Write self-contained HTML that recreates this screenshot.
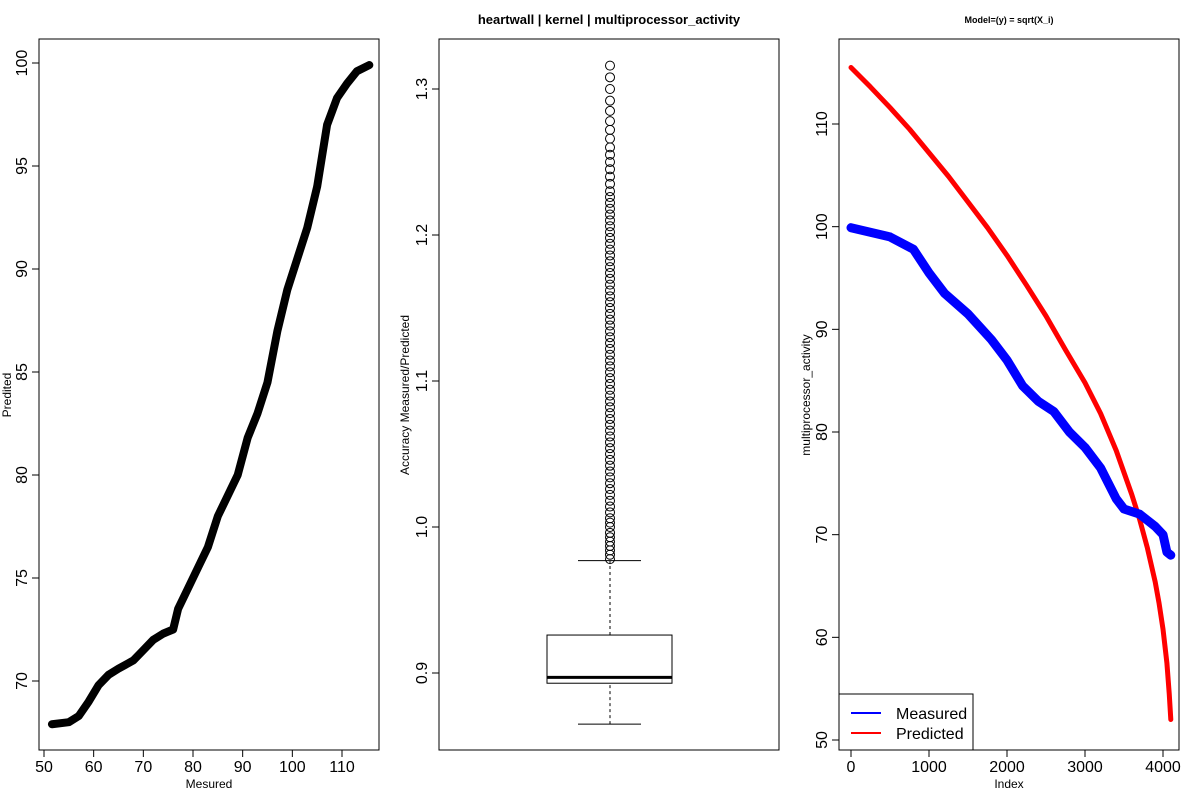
<!DOCTYPE html>
<html><head><meta charset="utf-8"><style>
body{margin:0;background:#fff;}
svg text{font-family:"Liberation Sans",sans-serif;}
</style></head><body>
<svg id="chart" width="1200" height="800" xmlns="http://www.w3.org/2000/svg">
<rect width="1200" height="800" fill="#fff"/>
<g id="p1"></g>
<g id="p2"></g>
<g id="p3"></g>
</svg>
<script>
// Panel 1 data
const measX = [51.6,55,57,59,61,63,65,68,70,72,74,76,77,79,81,83,85,87,89,91,93,95,97,99,101,103,105,107,109,111,113,115.5];
const predY = [67.9,68.0,68.3,69.0,69.8,70.3,70.6,71.0,71.5,72.0,72.3,72.5,73.5,74.5,75.5,76.5,78.0,79.0,80.0,81.8,83.0,84.5,87.0,89.0,90.5,92.0,94.0,97.0,98.3,99.0,99.6,99.9];
const p1XTicks = [50,60,70,80,90,100,110];
const p1YTicks = [70,75,80,85,90,95,100];
// Panel 2 data
const boxStats = [0.865,0.893,0.897,0.926,0.977]; // low whisker, q1, median, q3, high whisker
const outliers = [0.978,0.981,0.984,0.987,0.99,0.993,0.996,1.0,1.003,1.006,1.01,1.014,1.018,1.022,1.026,1.03,1.034,1.038,1.042,1.046,1.05,1.054,1.058,1.062,1.066,1.07,1.074,1.078,1.082,1.086,1.09,1.094,1.098,1.102,1.106,1.11,1.114,1.118,1.122,1.126,1.13,1.134,1.138,1.142,1.146,1.15,1.154,1.158,1.162,1.166,1.17,1.174,1.178,1.182,1.186,1.19,1.194,1.198,1.202,1.206,1.21,1.214,1.218,1.222,1.226,1.23,1.235,1.24,1.245,1.25,1.255,1.26,1.266,1.272,1.278,1.285,1.292,1.3,1.308,1.316];
const p2YTicks = [0.9,1.0,1.1,1.2,1.3];
const p2YLabels = ["0.9","1.0","1.1","1.2","1.3"];
// Panel 3 data
const idxM = [0,500,800,1000,1200,1500,1800,2000,2200,2400,2600,2800,3000,3200,3400,3500,3700,3900,4000,4050,4100];
const valM = [99.9,99.0,97.8,95.5,93.5,91.5,89,87,84.5,83,82,80,78.5,76.5,73.5,72.5,72,70.8,70,68.3,68];
const idxP = [0,250,500,750,1000,1250,1500,1750,2000,2250,2500,2750,3000,3200,3400,3600,3700,3800,3900,3950,4000,4050,4080,4100];
const valP = [115.5,113.6,111.6,109.5,107.2,104.9,102.4,99.9,97.2,94.3,91.3,88.0,84.8,81.8,78.2,73.9,71.5,68.7,65.4,63.3,60.8,57.5,54.5,52];
const p3XTicks = [0,1000,2000,3000,4000];
const p3YTicks = [50,60,70,80,90,100,110];

const NS="http://www.w3.org/2000/svg";
function mk(parent,tag,attrs,txt){const e=document.createElementNS(NS,tag);for(const k in attrs)e.setAttribute(k,attrs[k]);if(txt!==undefined)e.textContent=txt;parent.appendChild(e);return e;}
function lin(d0,d1,r0,r1){return v=>r0+(v-d0)*(r1-r0)/(d1-d0);}

// Panel 1
const g1=document.getElementById('p1');
const x1=lin(50,110,44,342), y1=lin(70,100,681,63);
let b=mk(g1,'rect',{x:39,y:39,width:340,height:711,fill:'none',stroke:'#000'});


let pts=measX.map((v,i)=>x1(v)+','+y1(predY[i])).join(' ');
let l=mk(g1,'polyline',{points:pts,fill:'none',stroke:'#000','stroke-width':8,'stroke-linejoin':'round','stroke-linecap':'round'});


mk(g1,'line',{x1:x1(50),x2:x1(110),y1:750,y2:750,stroke:'#000'});
p1XTicks.forEach(t=>{mk(g1,'line',{x1:x1(t),x2:x1(t),y1:750,y2:757,stroke:'#000'});
 const e=mk(g1,'text',{x:x1(t),y:772,'font-size':16,'text-anchor':'middle'},String(t));
 
 });
mk(g1,'line',{x1:39,x2:39,y1:y1(70),y2:y1(100),stroke:'#000'});
p1YTicks.forEach(t=>{mk(g1,'line',{x1:32,x2:39,y1:y1(t),y2:y1(t),stroke:'#000'});
 const e=mk(g1,'text',{x:27,y:y1(t),'font-size':16,'text-anchor':'middle',transform:`rotate(-90 27 ${y1(t)})`},String(t));
 
 });
let t1=mk(g1,'text',{x:209,y:788,'font-size':12,'text-anchor':'middle'},'Mesured');


t1=mk(g1,'text',{x:11,y:395,'font-size':12,'text-anchor':'middle',transform:'rotate(-90 11 395)'},'Predited');



// Panel 2
const g2=document.getElementById('p2');
const y2=lin(0.9,1.3,673,89); const cx=610;
b=mk(g2,'rect',{x:439,y:39,width:340,height:711,fill:'none',stroke:'#000'});


mk(g2,'line',{x1:cx,x2:cx,y1:y2(boxStats[0]),y2:y2(boxStats[1]),stroke:'#000','stroke-dasharray':'3,3'});
mk(g2,'line',{x1:cx,x2:cx,y1:y2(boxStats[3]),y2:y2(boxStats[4]),stroke:'#000','stroke-dasharray':'3,3'});
mk(g2,'line',{x1:578,x2:641,y1:y2(boxStats[0]),y2:y2(boxStats[0]),stroke:'#000'});
mk(g2,'line',{x1:578,x2:641,y1:y2(boxStats[4]),y2:y2(boxStats[4]),stroke:'#000'});
b=mk(g2,'rect',{x:547,y:y2(boxStats[3]),width:125,height:y2(boxStats[1])-y2(boxStats[3]),fill:'none',stroke:'#000'});


b=mk(g2,'line',{x1:547,x2:672,y1:y2(boxStats[2]),y2:y2(boxStats[2]),stroke:'#000','stroke-width':3});


outliers.forEach(v=>{const c=mk(g2,'circle',{cx:cx,cy:y2(v),r:4.5,fill:'none',stroke:'#000'});
 
 });
mk(g2,'line',{x1:439,x2:439,y1:y2(0.9),y2:y2(1.3),stroke:'#000'});
p2YTicks.forEach((t,i)=>{mk(g2,'line',{x1:432,x2:439,y1:y2(t),y2:y2(t),stroke:'#000'});
 const e=mk(g2,'text',{x:427,y:y2(t),'font-size':16,'text-anchor':'middle',transform:`rotate(-90 427 ${y2(t)})`},p2YLabels[i]);
 
 });
t1=mk(g2,'text',{x:609,y:24,'font-size':13,'font-weight':'bold','text-anchor':'middle'},'heartwall | kernel | multiprocessor_activity');


t1=mk(g2,'text',{x:409,y:395,'font-size':12,'text-anchor':'middle',transform:'rotate(-90 409 395)'},'Accuracy  Measured/Predicted');



// Panel 3
const g3=document.getElementById('p3');
const x3=lin(0,4000,851,1163), y3=lin(50,110,740,124);
b=mk(g3,'rect',{x:839,y:39,width:340,height:711,fill:'none',stroke:'#000'});


l=mk(g3,'polyline',{points:idxP.map((v,i)=>x3(v)+','+y3(valP[i])).join(' '),fill:'none',stroke:'#f00','stroke-width':5,'stroke-linejoin':'round','stroke-linecap':'round'});


l=mk(g3,'polyline',{points:idxM.map((v,i)=>x3(v)+','+y3(valM[i])).join(' '),fill:'none',stroke:'#00f','stroke-width':9,'stroke-linejoin':'round','stroke-linecap':'round'});


mk(g3,'line',{x1:x3(0),x2:x3(4000),y1:750,y2:750,stroke:'#000'});
p3XTicks.forEach(t=>{mk(g3,'line',{x1:x3(t),x2:x3(t),y1:750,y2:757,stroke:'#000'});
 const e=mk(g3,'text',{x:x3(t),y:772,'font-size':16,'text-anchor':'middle'},String(t));
 
 });
mk(g3,'line',{x1:839,x2:839,y1:y3(50),y2:y3(110),stroke:'#000'});
p3YTicks.forEach(t=>{mk(g3,'line',{x1:832,x2:839,y1:y3(t),y2:y3(t),stroke:'#000'});
 const e=mk(g3,'text',{x:827,y:y3(t),'font-size':16,'text-anchor':'middle',transform:`rotate(-90 827 ${y3(t)})`},String(t));
 
 });
t1=mk(g3,'text',{x:1009,y:23,'font-size':9,'font-weight':'bold','text-anchor':'middle'},'Model=(y) = sqrt(X_i)');


t1=mk(g3,'text',{x:1009,y:788,'font-size':12,'text-anchor':'middle'},'Index');


t1=mk(g3,'text',{x:810,y:395,'font-size':12,'text-anchor':'middle',transform:'rotate(-90 810 395)'},'multiprocessor_activity');


const lg=mk(g3,'g',{});


mk(lg,'rect',{x:839,y:694,width:134,height:56,fill:'#fff',stroke:'#000'});
mk(lg,'line',{x1:851,x2:881,y1:713,y2:713,stroke:'#00f','stroke-width':2});
mk(lg,'line',{x1:851,x2:881,y1:733,y2:733,stroke:'#f00','stroke-width':2});
let le=mk(lg,'text',{x:896,y:719,'font-size':16},'Measured');


le=mk(lg,'text',{x:896,y:739,'font-size':16},'Predicted');


</script>
</body></html>
